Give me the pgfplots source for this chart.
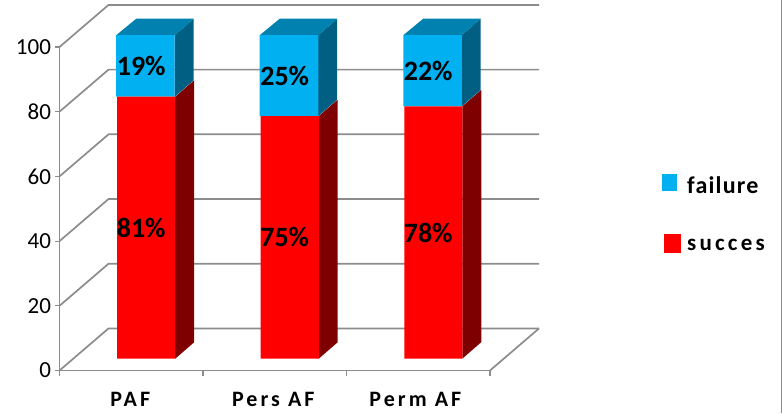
\documentclass[border=0pt]{standalone}
\usepackage{pgfplots}
\pgfplotsset{compat=1.18}
\usepackage{pgfplotstable}
\usepackage{fontspec}
\setmainfont{Carlito}
\newfontfamily\spaced[LetterSpace=14]{Carlito}
\newfontfamily\tight[LetterSpace=5]{Carlito}
\definecolor{wallgrey}{HTML}{8C8C8C}
\definecolor{failblue}{HTML}{00B0F0}
\definecolor{failside}{HTML}{005F82}
\definecolor{failtop}{HTML}{0081AF}
\definecolor{succred}{HTML}{FF0000}
\definecolor{succside}{HTML}{7F0000}

% Outcome percentages per type of atrial fibrillation
\pgfplotstableread{
c succes failure
0 81 19
1 75 25
2 78 22
}\outcomes

% Depth faces of one column: #1 category, #2 succes share
\newcommand\depthfaces[2]{
  \addplot[fill=succside,draw=none] coordinates {({#1+0.3066},3.65) ({#1+0.4390},8.75) ({#1+0.4390},{8.75+#2}) ({#1+0.3066},{3.65+#2})} --cycle;
  \addplot[fill=failside,draw=none] coordinates {({#1+0.3031},{3.65+#2}) ({#1+0.4355},{8.75+#2}) ({#1+0.4355},108.75) ({#1+0.3031},103.65)} --cycle;
  \addplot[fill=failtop,draw=none] coordinates {({#1-0.1045},103.65) ({#1+0.0350},108.75) ({#1+0.4355},108.75) ({#1+0.3031},103.65)} --cycle;
}
% One wall gridline running from the front edge to the back wall
\newcommand\wallline[1]{
  \addplot[wallgrey,line width=1.7pt] coordinates {(-0.5,#1) (-0.1585,{#1+13}) (2.8415,{#1+13})};
}

\begin{document}
\begin{tikzpicture}[x=1pt,y=1pt]
\path[use as bounding box] (0,0) rectangle (782,413);
\draw[wallgrey,line width=1pt] (781.5,0) -- (781.5,413);

\begin{axis}[
  at={(59.5pt,42.5pt)},anchor=south west,
  scale only axis,width=430.5pt,height=323.5pt,
  xmin=-0.5,xmax=2.5,ymin=0,ymax=100,clip=false,
  axis x line*=bottom,axis y line*=left,
  axis line style={wallgrey,line width=1.7pt,-},
  xtick={-0.007,0.99,1.98},xticklabels={PAF,Pers AF,Perm AF},
  major x tick style={draw=none},
  minor xtick={-0.5,0.5,1.5,2.5},
  minor x tick style={wallgrey,line width=1.2pt},
  minor tick length=5pt,
  ytick={0,20,40,60,80,100},
  y tick style={wallgrey,line width=1.2pt},
  major tick length=4pt,
  tick align=outside,
  /pgf/number format/assume math mode=true,
  yticklabel style={font=\fontsize{23}{23}\selectfont,xshift=-1pt},
  xticklabel style={font=\fontsize{22}{22}\spaced\bfseries,yshift=-14pt},
]
\wallline{0}\wallline{20}\wallline{40}\wallline{60}\wallline{80}\wallline{100}
\addplot[wallgrey,line width=1.7pt] coordinates {(2.5,0) (2.8415,13)};
\depthfaces{0}{81}
\depthfaces{1}{75}
\depthfaces{2}{78}
\end{axis}

% Front faces of the stacked columns, on the plane one step into the floor
\begin{axis}[
  at={(59.5pt,42.5pt)},anchor=south west,
  scale only axis,width=430.5pt,height=323.5pt,
  xmin=-0.6045,xmax=2.3955,ymin=-3.65,ymax=96.35,clip=false,
  hide axis,ybar stacked,
  /pgf/number format/assume math mode=true,
  nodes near coords={\pgfmathprintnumber\pgfplotspointmeta\%},
  every node near coord/.style={anchor=center,text=black,xshift=-5pt,
    font=\fontsize{28}{28}\selectfont\bfseries},
]
\addplot[fill=succred,draw=none,bar width=58pt,
  point meta=\thisrow{succes}] table[x=c,y=succes] {\outcomes};
\addplot[fill=failblue,draw=none,bar width=58.5pt,bar shift=-0.75pt,
  point meta=\thisrow{failure}] table[x=c,y=failure] {\outcomes};
\end{axis}

% Key at the right of the plot
\fill[failblue] (662,222) rectangle (677,239);
\fill[succred] (664,160) rectangle (681,179);
\node[anchor=west,inner sep=0pt,font=\fontsize{24}{24}\tight\bfseries] at (687,228) {failure};
\node[anchor=west,inner sep=0pt,font=\fontsize{23}{23}\spaced\bfseries] at (687,168) {succes};
\end{tikzpicture}
\end{document}
